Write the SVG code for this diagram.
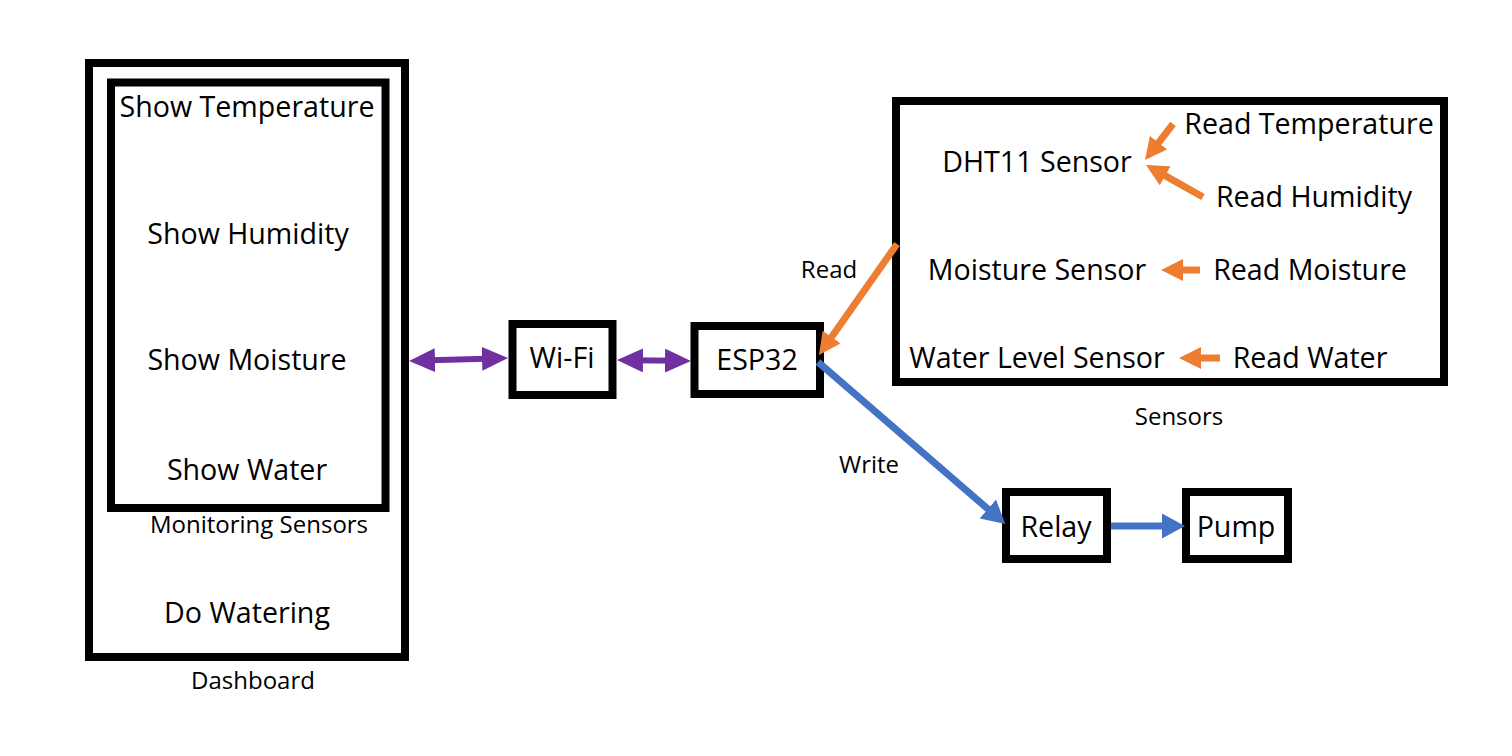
<svg xmlns="http://www.w3.org/2000/svg" width="1512" height="756" viewBox="0 0 1512 756">
  <style>
    .box { fill: none; stroke: #000; stroke-width: 8; }
    .t { font-family: "Open Sans", "Noto Sans", "Liberation Sans", sans-serif; font-size: 28.6px; fill: #000; text-anchor: middle; }
    .s { font-family: "Open Sans", "Noto Sans", "Liberation Sans", sans-serif; font-size: 24px; fill: #000; text-anchor: middle; }
    .o { stroke: #ED7D31; stroke-width: 7; fill: none; marker-end: url(#ho); }
    .b { stroke: #4472C4; stroke-width: 7; fill: none; marker-end: url(#hb); }
    .p { stroke: #7030A0; stroke-width: 6; fill: none; marker-start: url(#hp); marker-end: url(#hp); }
  </style>
  <defs>
    <marker id="ho" viewBox="0 0 22 22" refX="11" refY="11" markerWidth="22" markerHeight="22" markerUnits="userSpaceOnUse" orient="auto">
      <path d="M0,0 L22,11 L0,22 Z" fill="#ED7D31"/>
    </marker>
    <marker id="hb" viewBox="0 0 23 25" refX="10" refY="12.5" markerWidth="23" markerHeight="25" markerUnits="userSpaceOnUse" orient="auto">
      <path d="M0,0 L23,12.5 L0,25 Z" fill="#4472C4"/>
    </marker>
    <marker id="hp" viewBox="0 0 26 24" refX="13" refY="12" markerWidth="26" markerHeight="24" markerUnits="userSpaceOnUse" orient="auto-start-reverse">
      <path d="M0,0 L26,12 L0,24 Z" fill="#7030A0"/>
    </marker>
  </defs>
  <rect width="1512" height="756" fill="#fff"/>

  <g id="dashboard">
    <rect class="box" x="89" y="63" width="316" height="594"/>
    <text class="t" x="247" y="623">Do Watering</text>
    <text class="s" x="253" y="689">Dashboard</text>
  </g>
  <g id="monitoring">
    <rect class="box" x="111" y="82.5" width="274.5" height="425.5"/>
    <text class="t" x="247" y="117">Show Temperature</text>
    <text class="t" x="248" y="244">Show Humidity</text>
    <text class="t" x="247" y="370">Show Moisture</text>
    <text class="t" x="247" y="480">Show Water</text>
    <text class="s" x="259" y="533">Monitoring Sensors</text>
  </g>
  <g id="wifi">
    <rect class="box" x="512.5" y="324" width="100" height="71"/>
    <text class="t" x="562" y="368">Wi-Fi</text>
  </g>
  <g id="esp32">
    <rect class="box" x="694.5" y="326" width="125.5" height="68"/>
    <text class="t" x="757" y="370">ESP32</text>
  </g>
  <g id="sensors">
    <rect class="box" x="896" y="101" width="548" height="281"/>
    <text class="t" x="1309" y="134">Read Temperature</text>
    <text class="t" x="1037" y="172">DHT11 Sensor</text>
    <text class="t" x="1314" y="207">Read Humidity</text>
    <text class="t" x="1037" y="280">Moisture Sensor</text>
    <text class="t" x="1310" y="280">Read Moisture</text>
    <text class="t" x="1037" y="368">Water Level Sensor</text>
    <text class="t" x="1310" y="368">Read Water</text>
    <text class="s" x="1179" y="425">Sensors</text>
  </g>
  <g id="relay">
    <rect class="box" x="1006" y="492" width="101" height="67"/>
    <text class="t" x="1056" y="537">Relay</text>
  </g>
  <g id="pump">
    <rect class="box" x="1186" y="492" width="102" height="67"/>
    <text class="t" x="1236" y="537">Pump</text>
  </g>

  <g id="connectors">
    <line class="p" x1="422" y1="360.6" x2="495" y2="358.4"/>
    <line class="p" x1="630" y1="360.2" x2="678" y2="360.8"/>
    <line class="o" x1="1173" y1="124" x2="1151.8" y2="151.3"/>
    <line class="o" x1="1203" y1="197" x2="1155.6" y2="170.4"/>
    <line class="o" x1="1200" y1="270" x2="1172" y2="270"/>
    <line class="o" x1="1220" y1="358" x2="1190" y2="358"/>
    <line class="o" x1="897" y1="244" x2="825.3" y2="346"/>
    <line class="b" x1="818" y1="362" x2="995.4" y2="515.5"/>
    <line class="b" x1="1111" y1="526" x2="1172" y2="526"/>
    <text class="s" x="829" y="278">Read</text>
    <text class="s" x="869" y="473">Write</text>
  </g>
</svg>
